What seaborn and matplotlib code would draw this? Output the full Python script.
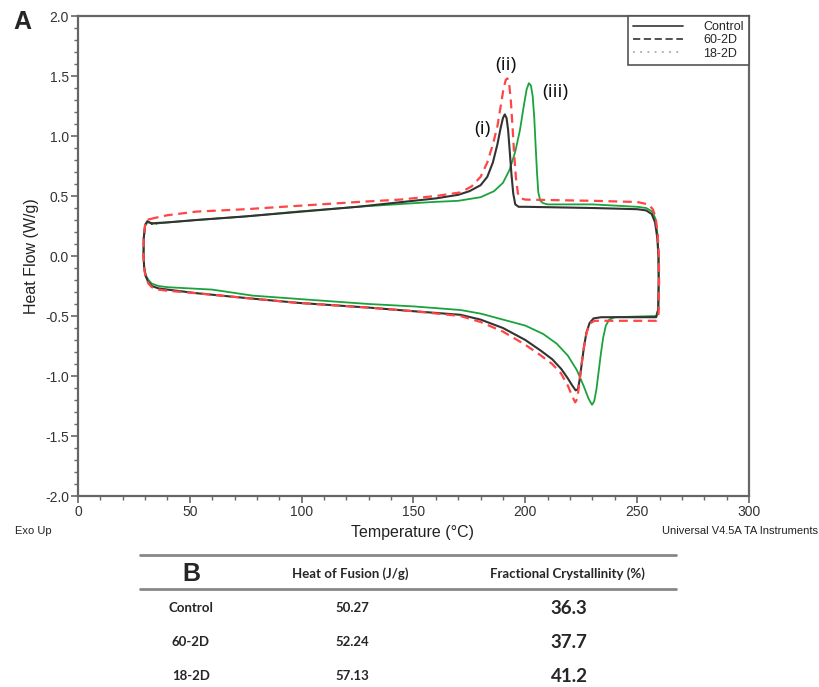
import numpy as np
import pandas as pd
import matplotlib
matplotlib.use("Agg")
import matplotlib.pyplot as plt
from matplotlib.lines import Line2D
from matplotlib.ticker import MultipleLocator
import seaborn as sns

# ── DSC loop traces, path goes: left edge -> heating -> 260 C -> cooling
control_T = [33, 31, 30, 29.4, 29.3, 29.6, 30.3, 31.5, 33, 36, 40, 53, 75, 98, 130, 150, 171,
             180, 190, 200, 207, 212, 216, 219, 221, 222.5, 223.5, 224.3, 225.2, 226.2, 227.3,
             228.7, 230.5, 234, 245, 258.5, 259.4, 259.6, 259.5, 259, 258, 256.5, 254, 250,
             230, 200, 197, 195.5, 194.6, 193.8, 193, 192.3, 191.6, 190.8, 190, 189, 187.5,
             185.5, 183, 180, 175, 170, 160, 150, 125, 100, 75, 53, 40, 35, 33]
control_HF = [0.27, 0.29, 0.26, 0.15, 0.0, -0.10, -0.17, -0.22, -0.25, -0.27, -0.28, -0.31,
              -0.35, -0.39, -0.43, -0.46, -0.49, -0.53, -0.60, -0.70, -0.79, -0.86, -0.94,
              -1.02, -1.08, -1.12, -1.11, -1.03, -0.90, -0.76, -0.64, -0.56, -0.52, -0.51,
              -0.51, -0.51, -0.45, -0.20, 0.0, 0.15, 0.28, 0.35, 0.38, 0.39, 0.40, 0.41, 0.41,
              0.43, 0.52, 0.68, 0.88, 1.05, 1.15, 1.18, 1.15, 1.07, 0.93, 0.78, 0.66, 0.59,
              0.54, 0.51, 0.48, 0.46, 0.41, 0.37, 0.33, 0.30, 0.28, 0.275, 0.27]

d602_T = [35, 30.5, 30, 29.4, 29.3, 29.6, 30.3, 31.5, 33, 36, 40, 53, 75, 98, 130, 150, 171,
          180, 190, 200, 207, 212, 216, 219, 221, 222.3, 223.2, 224, 225, 226.2, 227.5, 229,
          231, 240, 258.5, 259.6, 259.8, 259.7, 259.2, 258.3, 257, 255, 250, 230, 200, 198,
          196.7, 195.8, 195, 194.2, 193.5, 192.8, 192, 191.3, 190.3, 189, 187.5, 185.5, 183,
          180, 176, 171, 160, 144, 125, 100, 75, 53, 40, 35]
d602_HF = [0.32, 0.30, 0.26, 0.15, 0.0, -0.11, -0.18, -0.23, -0.26, -0.28, -0.29, -0.31,
           -0.35, -0.39, -0.43, -0.46, -0.50, -0.55, -0.63, -0.74, -0.83, -0.90, -0.98, -1.08,
           -1.17, -1.22, -1.19, -1.08, -0.92, -0.76, -0.63, -0.56, -0.54, -0.54, -0.54, -0.48,
           -0.20, 0.0, 0.18, 0.32, 0.39, 0.43, 0.45, 0.46, 0.47, 0.48, 0.52, 0.65, 0.85, 1.10,
           1.30, 1.43, 1.48, 1.47, 1.40, 1.25, 1.08, 0.93, 0.78, 0.66, 0.58, 0.53, 0.50, 0.47,
           0.45, 0.42, 0.39, 0.37, 0.34, 0.32]

d182_T = [35, 31, 30, 29.4, 29.3, 29.6, 30.3, 31.5, 33, 36, 40, 60, 78, 100, 130, 150, 171,
          180, 190, 200, 208, 214, 219, 223, 226, 228.3, 229.8, 230.8, 231.8, 232.8, 233.8,
          234.8, 236, 237.5, 240, 258.5, 259.5, 259.7, 259.6, 259.1, 258.2, 256.8, 254, 250,
          230, 210, 208, 206.7, 205.8, 205.2, 204.6, 204, 203.3, 202.5, 201.6, 200.6, 199.3,
          197.6, 195.5, 193, 190, 186, 180, 170, 158.7, 150, 125, 98, 75, 53, 40, 35]
d182_HF = [0.27, 0.28, 0.25, 0.15, 0.0, -0.10, -0.16, -0.20, -0.23, -0.25, -0.26, -0.28,
           -0.33, -0.36, -0.40, -0.42, -0.45, -0.48, -0.53, -0.58, -0.65, -0.73, -0.83,
           -0.95, -1.08, -1.19, -1.24, -1.21, -1.11, -0.96, -0.81, -0.68, -0.58, -0.53,
           -0.51, -0.50, -0.44, -0.20, 0.0, 0.18, 0.31, 0.37, 0.40, 0.41, 0.43, 0.43, 0.44,
           0.46, 0.53, 0.70, 0.92, 1.15, 1.33, 1.42, 1.44, 1.39, 1.25, 1.05, 0.87, 0.72,
           0.61, 0.54, 0.49, 0.46, 0.45, 0.44, 0.41, 0.37, 0.33, 0.30, 0.28, 0.27]

samples = ["Control", "60-2D", "18-2D"]
peak_labels = ["(i)", "(ii)", "(iii)"]
peak_T = [181, 191.3, 213.5]
peak_HF = [1.06, 1.59, 1.37]

heat_of_fusion = ["50.27", "52.24", "57.13"]
crystallinity = ["36.3", "37.7", "41.2"]

sns.set_theme(style="ticks")
plt.rcParams["font.family"] = ["Liberation Sans", "DejaVu Sans"]

fig = plt.figure(figsize=(8.2, 6.87), dpi=100)
ax = fig.add_axes([78 / 820, 1 - 496 / 687, 671 / 820, 480 / 687])

traces = {
    "18-2D": (d182_T, d182_HF, dict(color="#1aa33c", lw=1.3)),
    "Control": (control_T, control_HF, dict(color="#333333", lw=1.5)),
    "60-2D": (d602_T, d602_HF, dict(color="#ff4545", lw=1.6, dashes=(4, 2.5))),
}
for name, (t, hf, style) in traces.items():
    df = pd.DataFrame({"T": t, "HF": hf})
    ls = "--" if "dashes" in style else "-"
    sns.lineplot(data=df, x="T", y="HF", sort=False, estimator=None, ax=ax,
                 color=style["color"], lw=style["lw"], linestyle=ls)
    ax.lines[-1].set_solid_joinstyle("round")
    if "dashes" in style:
        ax.lines[-1].set_dashes(style["dashes"])

ax.set_xlim(0, 300)
ax.set_ylim(-2.0, 2.0)
ax.xaxis.set_major_locator(MultipleLocator(50))
ax.xaxis.set_minor_locator(MultipleLocator(10))
ax.yaxis.set_major_locator(MultipleLocator(0.5))
ax.yaxis.set_minor_locator(MultipleLocator(0.1))
ax.yaxis.set_major_formatter(matplotlib.ticker.FormatStrFormatter("%.1f"))
ax.tick_params(which="major", length=5, width=1.2, color="#666666", labelsize=10,
               labelcolor="#333333", pad=1.5)
ax.tick_params(which="minor", length=3, width=1.0, color="#666666")
for sp in ax.spines.values():
    sp.set_color("#666666")
    sp.set_linewidth(1.6)
ax.set_xlabel("")
ax.set_ylabel("Heat Flow (W/g)", fontsize=11.5, color="#222222", labelpad=4)

for lab, t, hf in zip(peak_labels, peak_T, peak_HF):
    ax.text(t, hf, lab, fontsize=14, ha="center", va="center", family="Open Sans", color="#111111")

handles = [Line2D([], [], color="#444444", lw=1.3),
           Line2D([], [], color="#444444", lw=1.3, ls=(0, (4, 2))),
           Line2D([], [], color="#aaaaaa", lw=1.3, ls=(0, (1, 3)))]
leg = ax.legend(handles, samples, loc="upper right", bbox_to_anchor=(1.0, 1.0),
                fancybox=False, framealpha=1, edgecolor="#555555", fontsize=9,
                handlelength=4.0, handletextpad=1.6, borderpad=0.4, labelspacing=0.1,
                borderaxespad=0)
leg.get_frame().set_linewidth(1.2)

# panel letter + TA footer texts
fig.text(22 / 820, 1 - 22 / 687, "A", fontsize=18, fontweight="bold", ha="center", va="center")
fig.text(413 / 820, 1 - 532 / 687, "Temperature (°C)", fontsize=11.5, ha="center", va="center",
         color="#222222")
fig.text(15 / 820, 1 - 531 / 687, "Exo Up", fontsize=8, ha="left", va="center",
         family=["Liberation Sans Narrow", "Liberation Sans"], color="#222222")
fig.text(818 / 820, 1 - 531 / 687, "Universal V4.5A TA Instruments", fontsize=8, ha="right",
         va="center", family=["Liberation Sans Narrow", "Liberation Sans"], color="#222222")

# table B
for yp in (555, 589):
    fig.add_artist(Line2D([140 / 820, 676 / 820], [1 - yp / 687] * 2, color="#888888", lw=2))
fig.text(191 / 820, 1 - 574 / 687, "B", fontsize=18, fontweight="bold", ha="center", va="center")
fig.text(350 / 820, 1 - 574 / 687, "Heat of Fusion (J/g)", fontsize=9.5, fontweight="bold",
         family="Lato", ha="center", va="center")
fig.text(567 / 820, 1 - 574 / 687, "Fractional Crystallinity (%)", fontsize=9.5, fontweight="bold",
         family="Lato", ha="center", va="center")
for i, (s, h, c) in enumerate(zip(samples, heat_of_fusion, crystallinity)):
    yp = 1 - (608 + 34 * i) / 687
    fig.text(191 / 820, yp, s, fontsize=9.5, fontweight="bold", family="Lato", ha="center", va="center")
    fig.text(352 / 820, yp, h, fontsize=9.5, fontweight="bold", family="Lato", ha="center", va="center")
    fig.text(569 / 820, yp, c, fontsize=13.5, fontweight="bold", family="Lato", ha="center", va="center")

fig.savefig("out.png", dpi=100)
